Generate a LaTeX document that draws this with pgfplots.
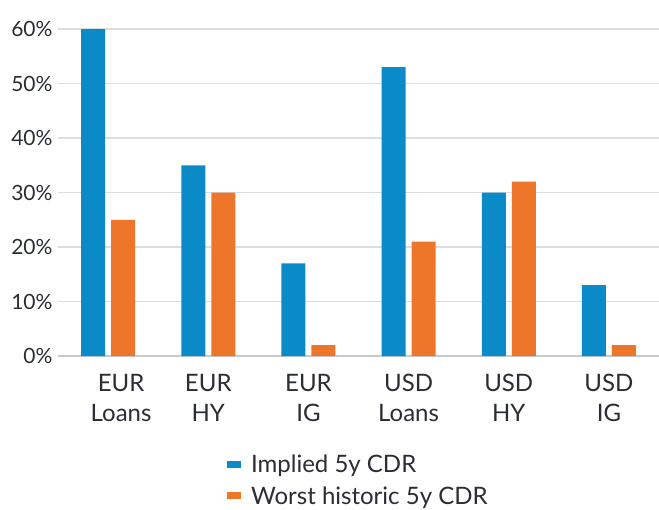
\documentclass[border=0pt]{standalone}
\usepackage{fontspec}
\setmainfont{Lato}
\usepackage{pgfplots}
\pgfplotsset{compat=1.18}
\definecolor{cblue}{HTML}{0A8BC8}
\definecolor{corange}{HTML}{EE762B}
\definecolor{txt}{HTML}{2A2D33}
\definecolor{gridc}{HTML}{DADDE1}
\definecolor{basec}{HTML}{C5CAD0}
\begin{document}
\begin{tikzpicture}
\path[use as bounding box] (-58pt,-153pt) rectangle (601pt,356pt);
\begin{axis}[
  at={(0pt,0pt)}, anchor=south west,
  scale only axis, width=601pt, height=327pt,
  xmin=-0.5, xmax=5.5, ymin=0, ymax=60,
  ybar=6pt, bar width=24pt,
  xtick={0.13,1,2,3,4,5},
  xticklabels={EUR\\Loans, EUR\\HY, EUR\\IG, USD\\Loans, USD\\HY, USD\\IG},
  ytick={0,10,...,60},
  yticklabels={0\%,10\%,20\%,30\%,40\%,50\%,60\%},
  axis line style={draw=none},
  major tick length=0pt,
  ymajorgrids, grid style={gridc, line width=1.4pt},
  extra y ticks={0}, extra y tick labels={},
  extra y tick style={grid style={basec, line width=2pt}},
  yticklabel style={font=\fontsize{21}{25}\selectfont, text=txt, xshift=-2pt},
  xticklabel style={font=\fontsize{24}{30}\selectfont, text=txt, align=center, yshift=-15pt},
  legend style={at={(0.281,0)}, anchor=north west, yshift=-97pt, draw=none, fill=none,
    font=\fontsize{24}{29}\selectfont, text=txt, row sep=8pt, inner sep=0pt,
    nodes={inner xsep=10pt}},
  legend cell align=left,
  legend image code/.code={\fill[#1, draw=none] (0pt,-3.5pt) rectangle (14pt,3.5pt);},
]
\addplot[fill=cblue, draw=none] coordinates {(0,60) (1,35) (2,17) (3,53) (4,30) (5,13)};
\addplot[fill=corange, draw=none] coordinates {(0,25) (1,30) (2,2) (3,21) (4,32) (5,2)};
\legend{Implied 5y CDR, Worst historic 5y CDR}
\end{axis}
\end{tikzpicture}
\end{document}
